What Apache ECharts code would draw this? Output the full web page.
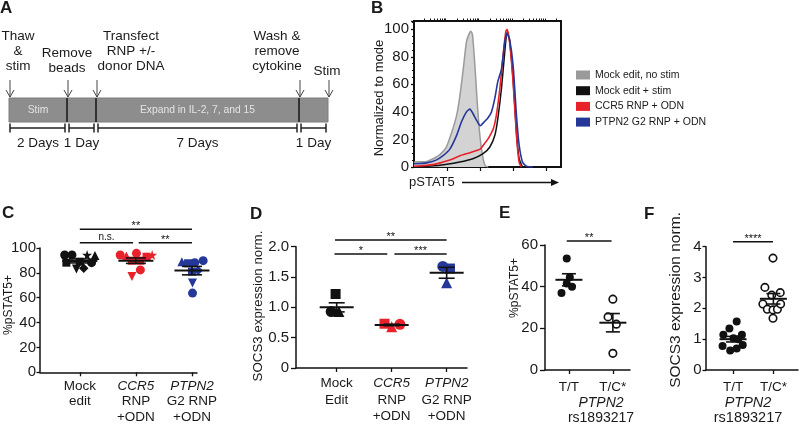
<!DOCTYPE html>
<html><head><meta charset="utf-8">
<script src="https://cdn.jsdelivr.net/npm/echarts@6/dist/echarts.min.js"></script>
<style>html,body{margin:0;padding:0;background:#fff}#c{width:800px;height:425px}</style>
</head><body><div id="c"></div>
<script>
const FONT = "'Liberation Sans', Arial, Helvetica, sans-serif";
const INK = '#1a1a1a';

// ---------------- Panel A (timeline, in days) ----------------
const segDays = [2, 1, 7, 1];
const segLabels = ['Stim', '', 'Expand in IL-2, 7, and 15', ''];
const durationLabels = ['2 Days', '1 Day', '7 Days', '1 Day'];
const eventDays = [0, 2, 3, 10, 11];
const eventLabels = ['Thaw\n&\nstim', 'Remove\nbeads', 'Transfect\nRNP +/-\ndonor DNA', 'Wash &\nremove\ncytokine', 'Stim'];

// ---------------- Panel B (pSTAT5 histograms, channel 0-100, % of mode) ----------------
const histNames = ['Mock edit, no stim', 'Mock edit + stim', 'CCR5 RNP + ODN', 'PTPN2 G2 RNP + ODN'];
const histMockNoStim = [[0,3],[0.7,3.6],[8.6,4],[13,6],[17.6,9],[22,14.5],[25.6,25],[29,37.5],[31,50],[33.5,71],[35.7,91],[37.6,97],[38.7,98.5],[39.8,96],[41.4,74],[43,47],[44.8,23],[46.6,8.5],[48.4,1],[50.5,0]];
const histMockStim = [[0,0],[17.6,1.2],[31,3.6],[40,6],[47,9.7],[51.6,14.5],[55,23],[57,35],[59.5,57],[61.8,84],[63.3,98],[65,92],[67.4,64],[69.7,25],[71.5,6],[73.8,0]];
const histCCR5 = [[0,0.5],[13,1.7],[24.4,5],[31,8],[38,10.4],[45,13],[48,17],[50.5,20.6],[54,28],[56,37.5],[58.4,57],[60.6,81],[62.4,98],[63.3,100],[65,91],[67.4,62],[69.7,23],[71.5,3.6],[73,0]];
const histPTPN2 = [[0,2.4],[8.6,3],[15,5],[20,8.5],[24.4,13],[29,23],[32.4,33],[35.7,40],[38,42],[40,39],[42.5,34],[45,30],[48,33],[50.5,36],[52.7,40],[55,50],[57,62],[59.5,71],[61.8,91],[63.3,97],[65,93],[67.4,74],[69.7,37.5],[71.5,16],[73.8,3.6],[76.5,0.5],[81,0]];
const histDecades = [0, 22.4, 45, 67.4, 90];

// ---------------- Panel C (%pSTAT5+) ----------------
const catC = [['Mock','edit'], ['CCR5','RNP','+ODN'], ['PTPN2','G2 RNP','+ODN']];
const mockC_x = [0.73, 0.86, 1.13, 1.27, 0.76, 1.0, 1.21, 0.94, 1.07];
const mockC_y = [94.4, 94.4, 94.4, 94, 88.2, 89, 88.2, 83.2, 83.8];
const ccr5C_x = [1.72, 1.83, 2.01, 1.93, 2.08, 2.19, 2.29, 2.08, 1.93];
const ccr5C_y = [94.4, 93.6, 95.7, 89.8, 89.8, 93, 94.4, 82.4, 77];
const ptpn2C_x = [2.82, 2.93, 3.05, 3.2, 3.0, 3.11, 3.01, 3.01];
const ptpn2C_y = [89, 87.7, 88.2, 89.8, 81, 81.8, 71.8, 63.7];
const meanC = [89.6, 89.8, 81.8];
const semC = [1.6, 2.2, 3.4];
const sigC = [[1, 3, 115, '**'], [1, 1.95, 104.2, 'n.s.'], [2.05, 3, 104.2, '**']];
// donor symbols (style)
const mockC_shape = ['circle','circle','star','triangle','rect','rect','circle','tridown','diamond'];
const ccr5C_shape = ['circle','triangle','circle','rect','rect','rect','star','circle','tridown'];
const ptpn2C_shape = ['triangle','rect','circle','circle','rect','diamond','tridown','circle'];

// ---------------- Panel D (SOCS3 expression) ----------------
const catD = [['Mock','Edit'], ['CCR5','RNP','+ODN'], ['PTPN2','G2 RNP','+ODN']];
const mockD_x = [0.98, 0.9, 1.04];
const mockD_y = [1.22, 0.93, 0.93];
const ccr5D_x = [1.87, 2.0, 2.15];
const ccr5D_y = [0.73, 0.68, 0.72];
const ptpn2D_x = [2.93, 3.06, 3.0];
const ptpn2D_y = [1.675, 1.64, 1.405];
const meanD = [1.0, 0.71, 1.57];
const semD = [0.075, 0.012, 0.09];
const sigD = [[0.97, 3, 2.11, '**'], [0.96, 1.92, 1.88, '*'], [2.05, 3, 1.88, '***']];
const dShape = ['rect', 'circle', 'triangle'];
const dShapeRed = ['rect', 'triangle', 'circle'];
const dShapeBlue = ['circle', 'rect', 'triangle'];

// ---------------- Panel E (%pSTAT5+ by genotype) ----------------
const catE = [['T/T'], ['T/C*']];
const ttE_x = [0.95, 1.02, 0.95, 1.07, 0.83];
const ttE_y = [53.5, 44.5, 41.5, 40, 37];
const tcE_x = [2.0, 1.89, 2.08, 2.0];
const tcE_y = [34, 25.5, 22, 8];
const meanE = [43.3, 22.7];
const semE = [2.9, 4.4];
const sigE = [[0.95, 1.97, 61.9, '**']];

// ---------------- Panel F (SOCS3 by genotype) ----------------
const catF = [['T/T'], ['T/C*']];
const ttF_x = [1.09, 0.91, 0.76, 1.22, 1.01, 1.13, 0.74, 1.24, 0.93, 1.09];
const ttF_y = [1.57, 1.35, 1.14, 1.14, 1.03, 1.0, 0.78, 0.81, 0.63, 0.70];
const tcF_x = [1.99, 1.79, 2.17, 1.96, 1.74, 1.85, 1.99, 2.1, 2.18, 1.99];
const tcF_y = [3.63, 2.68, 2.51, 2.43, 2.14, 1.97, 1.95, 1.97, 2.14, 1.68];
const meanF = [1.0, 2.31];
const semF = [0.09, 0.17];
const sigF = [[1.0, 1.99, 4.16, '****']];

// ================= helpers =================
const RED = '#e8212b', BLUE = '#25389a', BLACK = '#111111';
const GENES = ['CCR5', 'PTPN2'];
const STAR = 'path://M50,0 L61,35 L98,35 L68,57 L79,91 L50,70 L21,91 L32,57 L2,35 L39,35 Z';

function symOf(name) {
  if (name === 'tridown') return { symbol: 'triangle', symbolRotate: 180 };
  if (name === 'star') return { symbol: STAR, symbolRotate: 0 };
  return { symbol: name, symbolRotate: 0 };
}
function pts(xs, ys, shapes, sizeMap) {
  return xs.map((x, i) => {
    const s = shapes ? shapes[i] : 'circle';
    const o = symOf(s);
    return { value: [x, ys[i]], symbol: o.symbol, symbolRotate: o.symbolRotate, symbolSize: sizeMap[s] };
  });
}
function catFormatter(cats) {
  return function (v) {
    const L = cats[Math.round(v) - 1];
    if (!L) return '';
    return L.map(s => GENES.indexOf(s) >= 0 ? '{i|' + s + '}' : s).join('\n');
  };
}
function meanSemRender(halfMean, halfSem) {
  return function (params, api) {
    const x = api.value(0), m = api.value(1), s = api.value(2);
    const c = api.coord([x, m]), t = api.coord([x, m + s]), b = api.coord([x, m - s]);
    const thin = { stroke: '#111', lineWidth: 1.6 };
    return { type: 'group', children: [
      { type: 'line', shape: { x1: c[0] - halfMean, y1: c[1], x2: c[0] + halfMean, y2: c[1] }, style: { stroke: '#111', lineWidth: 2 } },
      { type: 'line', shape: { x1: c[0] - halfSem, y1: t[1], x2: c[0] + halfSem, y2: t[1] }, style: thin },
      { type: 'line', shape: { x1: c[0] - halfSem, y1: b[1], x2: c[0] + halfSem, y2: b[1] }, style: thin },
      { type: 'line', shape: { x1: c[0], y1: t[1], x2: c[0], y2: b[1] }, style: thin }
    ]};
  };
}
function sigRender(list) {
  return function (params, api) {
    const p1 = api.coord([api.value(0), api.value(2)]);
    const p2 = api.coord([api.value(1), api.value(2)]);
    const lab = list[params.dataIndex][3];
    const star = lab.indexOf('*') >= 0;
    return { type: 'group', children: [
      { type: 'line', shape: { x1: p1[0], y1: p1[1], x2: p2[0], y2: p2[1] }, style: { stroke: '#111', lineWidth: 1.5 } },
      { type: 'text', style: { text: lab, x: (p1[0] + p2[0]) / 2, y: p1[1] - (star ? 3 : 6),
        align: 'center', textAlign: 'center', verticalAlign: 'middle', textVerticalAlign: 'middle',
        fontSize: star ? 11 : 10, fontFamily: FONT, fill: '#111' } }
    ]};
  };
}

// ---- panel A renderers ----
const segStarts = [];
segDays.reduce((acc, d) => { segStarts.push(acc); return acc + d; }, 0);
const segData = segDays.map((d, i) => [segStarts[i], segStarts[i] + d]);
const eventLabelDx = [8, -1, 34, -23, -2];
const eventLabelBottom = [73.5, 75.5, 73.5, 73.5, 78.5];

function renderSeg(params, api) {
  const i = params.dataIndex;
  const tl = api.coord([api.value(0), 1]), br = api.coord([api.value(1), 0]);
  const x0 = tl[0], x1 = br[0], y0 = tl[1], y1 = br[1];
  const kids = [{ type: 'rect', shape: { x: x0, y: y0, width: x1 - x0, height: y1 - y0 }, style: { fill: '#8d8d8d', stroke: '#7c7c7c', lineWidth: 1 } }];
  if (segLabels[i]) kids.push({ type: 'text', style: { text: segLabels[i], x: (x0 + x1) / 2, y: (y0 + y1) / 2 + 0.5,
    align: 'center', textAlign: 'center', verticalAlign: 'middle', textVerticalAlign: 'middle', fontSize: 10.3, fontFamily: FONT, fill: '#e4e4e4' } });
  if (i > 0) kids.push({ type: 'line', shape: { x1: x0, y1: y0, x2: x0, y2: y1 }, style: { stroke: '#2a2a2a', lineWidth: 1.8 } });
  const by = y1 + 6, bx0 = x0 + (i === 0 ? 1 : 2), bx1 = x1 - 2;
  const st = { stroke: '#222', lineWidth: 1.5 };
  kids.push({ type: 'line', shape: { x1: bx0, y1: by, x2: bx1, y2: by }, style: st });
  kids.push({ type: 'line', shape: { x1: bx0, y1: by - 4.5, x2: bx0, y2: by + 4.5 }, style: st });
  kids.push({ type: 'line', shape: { x1: bx1, y1: by - 4.5, x2: bx1, y2: by + 4.5 }, style: st });
  kids.push({ type: 'text', style: { text: durationLabels[i], x: (x0 + x1) / 2, y: by + 15.6,
    align: 'center', textAlign: 'center', verticalAlign: 'middle', textVerticalAlign: 'middle', fontSize: 13.5, fontFamily: FONT, fill: INK } });
  return { type: 'group', children: kids };
}
function renderEvent(params, api) {
  const i = params.dataIndex;
  const p = api.coord([api.value(0), 1]);
  const x = p[0] + 1, tip = p[1] - 1, top = tip - 17;
  const st = { stroke: '#444', lineWidth: 1, fill: 'none' };
  return { type: 'group', children: [
    { type: 'line', shape: { x1: x, y1: top, x2: x, y2: tip }, style: st },
    { type: 'polyline', shape: { points: [[x - 4, tip - 7], [x, tip], [x + 4, tip - 7]] }, style: st },
    { type: 'text', style: { text: eventLabels[i], x: x + eventLabelDx[i], y: eventLabelBottom[i], lineHeight: 14.7,
      align: 'center', textAlign: 'center', verticalAlign: 'bottom', textVerticalAlign: 'bottom', fontSize: 13.5, fontFamily: FONT, fill: INK } }
  ]};
}

// ---- axes builders ----
function yAx(grid, min, max, interval, opt) {
  opt = opt || {};
  return Object.assign({ gridIndex: grid, type: 'value', min: min, max: max, interval: interval,
    axisLine: { show: true, lineStyle: { color: '#111', width: 1.5 } },
    axisTick: { show: true, length: opt.tick || 4, lineStyle: { color: '#111', width: 1.3 } },
    splitLine: { show: false },
    axisLabel: { fontSize: opt.fs || 15, fontFamily: FONT, color: INK, margin: opt.margin || 4, formatter: opt.fmt } }, opt.extra || {});
}
function xCat(grid, min, max, cats, margin, lh) {
  const vals = cats.map((c, i) => i + 1);
  return { gridIndex: grid, type: 'value', min: min, max: max,
    axisLine: { show: true, lineStyle: { color: '#111', width: 1.5 } },
    axisTick: { show: true, length: 4, customValues: vals, lineStyle: { color: '#111', width: 1.3 } },
    splitLine: { show: false },
    axisLabel: { customValues: vals, formatter: catFormatter(cats), fontSize: 13.5, fontFamily: FONT, color: INK,
      margin: margin, lineHeight: lh,
      rich: { i: { fontStyle: 'italic', fontSize: 13.5, fontFamily: FONT, color: INK, lineHeight: lh } } } };
}

// minor ticks for panel B (log decades)
const minorB = [];
histDecades.forEach(d => { for (let m = 2; m <= 9; m++) { const v = d + 22.6 * Math.log10(m); if (v < 100) minorB.push(v); } });

const sizeC = { circle: 9, rect: 8, triangle: 9, tridown: 9, diamond: 9.5, star: 10 };
const sizeD = { circle: 11, rect: 10, triangle: 11 };

const option = {
  animation: false,
  backgroundColor: '#fff',
  textStyle: { fontFamily: FONT },
  grid: [
    { left: 9, top: 98, width: 319, height: 24 },
    { left: 414, top: 21, width: 147, height: 146, show: true, borderColor: '#111', borderWidth: 2, backgroundColor: 'transparent' },
    { left: 40, top: 248, width: 157, height: 125 },
    { left: 296, top: 246.7, width: 171, height: 123.3 },
    { left: 545, top: 245, width: 85, height: 125 },
    { left: 706, top: 246.7, width: 92, height: 123.3 }
  ],
  xAxis: [
    { gridIndex: 0, type: 'value', min: 0, max: 11, show: false },
    { gridIndex: 1, type: 'value', min: 0, max: 100,
      axisLine: { show: true, lineStyle: { color: '#111', width: 2 } },
      axisTick: { show: true, length: 4, customValues: histDecades.slice(1), lineStyle: { color: '#111', width: 1.2 } },
      axisLabel: { show: false }, splitLine: { show: false } },
    { gridIndex: 1, type: 'value', min: 0, max: 100,
      axisLine: { show: false },
      axisTick: { show: true, length: 2.5, customValues: minorB, lineStyle: { color: '#111', width: 1 } },
      axisLabel: { show: false }, splitLine: { show: false } },
    xCat(2, 0.29, 3.09, catC, 6.2, 15.5),
    xCat(3, 0.26, 3.37, catD, 7.2, 16.6),
    xCat(4, 0.455, 2.39, catE, 9.5, 16),
    xCat(5, 0.33, 2.61, catF, 9.5, 16)
  ],
  yAxis: [
    { gridIndex: 0, type: 'value', min: 0, max: 1, show: false },
    yAx(1, 0, 106, 20, { margin: 5, tick: 3, extra: { minorTick: { show: true, splitNumber: 4, length: 2, lineStyle: { color: '#111' } } },
      fmt: v => (v > 100 ? '' : String(v)) }),
    yAx(2, 0, 100, 20, { margin: 4, tick: 3.5 }),
    yAx(3, 0, 2, 0.5, { margin: 7, tick: 5, fmt: v => (v === 0 ? '0' : v.toFixed(1)) }),
    yAx(4, 0, 60, 20, { margin: 7, tick: 5 }),
    yAx(5, 0, 4, 1, { margin: 4.5, tick: 3.5 })
  ],
  legend: {
    data: histNames, orient: 'vertical', left: 576, top: 69.5, itemWidth: 14, itemHeight: 9, itemGap: 4.7,
    icon: 'rect', padding: 0, textStyle: { fontSize: 10.5, fontFamily: FONT, color: INK }
  },
  series: [
    // Panel A
    { type: 'custom', xAxisIndex: 0, yAxisIndex: 0, renderItem: renderSeg, data: segData, clip: false, silent: true },
    { type: 'custom', xAxisIndex: 0, yAxisIndex: 0, renderItem: renderEvent, data: eventDays.map(d => [d]), clip: false, silent: true },
    // Panel B
    { name: histNames[0], type: 'line', xAxisIndex: 1, yAxisIndex: 1, data: histMockNoStim, showSymbol: false, smooth: 0.2,
      itemStyle: { color: '#9a9a9a' }, lineStyle: { color: '#9a9a9a', width: 1.5 }, areaStyle: { color: '#d3d3d3', opacity: 1 } },
    { name: histNames[1], type: 'line', xAxisIndex: 1, yAxisIndex: 1, data: histMockStim, showSymbol: false, smooth: 0.2,
      itemStyle: { color: '#111' }, lineStyle: { color: '#111', width: 1.5 } },
    { name: histNames[2], type: 'line', xAxisIndex: 1, yAxisIndex: 1, data: histCCR5, showSymbol: false, smooth: 0.2,
      itemStyle: { color: RED }, lineStyle: { color: RED, width: 1.6 } },
    { name: histNames[3], type: 'line', xAxisIndex: 1, yAxisIndex: 1, data: histPTPN2, showSymbol: false, smooth: 0.2,
      itemStyle: { color: BLUE }, lineStyle: { color: BLUE, width: 1.6 } },
    // Panel C
    { type: 'scatter', xAxisIndex: 3, yAxisIndex: 2, data: pts(mockC_x, mockC_y, mockC_shape, sizeC), itemStyle: { color: BLACK, opacity: 1 }, clip: false },
    { type: 'scatter', xAxisIndex: 3, yAxisIndex: 2, data: pts(ccr5C_x, ccr5C_y, ccr5C_shape, sizeC), itemStyle: { color: RED, opacity: 1 }, clip: false },
    { type: 'scatter', xAxisIndex: 3, yAxisIndex: 2, data: pts(ptpn2C_x, ptpn2C_y, ptpn2C_shape, sizeC), itemStyle: { color: BLUE, opacity: 1 }, clip: false },
    { type: 'custom', xAxisIndex: 3, yAxisIndex: 2, renderItem: meanSemRender(17.5, 10), data: meanC.map((m, i) => [i + 1, m, semC[i]]), clip: false, z: 5 },
    { type: 'custom', xAxisIndex: 3, yAxisIndex: 2, renderItem: sigRender(sigC), data: sigC.map(s => [s[0], s[1], s[2]]), clip: false },
    // Panel D
    { type: 'scatter', xAxisIndex: 4, yAxisIndex: 3, data: pts(mockD_x, mockD_y, dShape, sizeD), itemStyle: { color: BLACK, opacity: 1 }, clip: false },
    { type: 'scatter', xAxisIndex: 4, yAxisIndex: 3, data: pts(ccr5D_x, ccr5D_y, dShapeRed, sizeD), itemStyle: { color: RED, opacity: 1 }, clip: false },
    { type: 'scatter', xAxisIndex: 4, yAxisIndex: 3, data: pts(ptpn2D_x, ptpn2D_y, dShapeBlue, sizeD), itemStyle: { color: BLUE, opacity: 1 }, clip: false },
    { type: 'custom', xAxisIndex: 4, yAxisIndex: 3, renderItem: meanSemRender(17, 8), data: meanD.map((m, i) => [i + 1, m, semD[i]]), clip: false, z: 5 },
    { type: 'custom', xAxisIndex: 4, yAxisIndex: 3, renderItem: sigRender(sigD), data: sigD.map(s => [s[0], s[1], s[2]]), clip: false },
    // Panel E
    { type: 'scatter', xAxisIndex: 5, yAxisIndex: 4, data: pts(ttE_x, ttE_y, null, { circle: 8 }), itemStyle: { color: BLACK, opacity: 1 }, clip: false },
    { type: 'scatter', xAxisIndex: 5, yAxisIndex: 4, data: pts(tcE_x, tcE_y, null, { circle: 7.5 }), itemStyle: { color: '#fff', borderColor: '#111', borderWidth: 1.6, opacity: 1 }, clip: false },
    { type: 'custom', xAxisIndex: 5, yAxisIndex: 4, renderItem: meanSemRender(13.5, 7), data: meanE.map((m, i) => [i + 1, m, semE[i]]), clip: false, z: 5 },
    { type: 'custom', xAxisIndex: 5, yAxisIndex: 4, renderItem: sigRender(sigE), data: sigE.map(s => [s[0], s[1], s[2]]), clip: false },
    // Panel F
    { type: 'scatter', xAxisIndex: 6, yAxisIndex: 5, data: pts(ttF_x, ttF_y, null, { circle: 8 }), itemStyle: { color: BLACK, opacity: 1 }, clip: false },
    { type: 'scatter', xAxisIndex: 6, yAxisIndex: 5, data: pts(tcF_x, tcF_y, null, { circle: 7.5 }), itemStyle: { color: '#fff', borderColor: '#111', borderWidth: 1.6, opacity: 1 }, clip: false },
    { type: 'custom', xAxisIndex: 6, yAxisIndex: 5, renderItem: meanSemRender(13.5, 7), data: meanF.map((m, i) => [i + 1, m, semF[i]]), clip: false, z: 5 },
    { type: 'custom', xAxisIndex: 6, yAxisIndex: 5, renderItem: sigRender(sigF), data: sigF.map(s => [s[0], s[1], s[2]]), clip: false }
  ],
  graphic: []
};

function gText(text, x, y, o) {
  o = o || {};
  return { type: 'text', x: x, y: y, rotation: o.rot || 0, silent: true,
    style: { text: text, x: 0, y: 0, align: o.align || 'center', textAlign: o.align || 'center',
      verticalAlign: o.va || 'middle', textVerticalAlign: o.va || 'middle',
      fontSize: o.fs || 13.5, fontWeight: o.fw || 'normal', fontStyle: o.fst || 'normal', fontFamily: FONT, fill: INK } };
}
const R = Math.PI / 2;
option.graphic = [
  gText('A', 0, 0, { align: 'left', va: 'top', fs: 17, fw: 'bold' }),
  gText('B', 371, 0, { align: 'left', va: 'top', fs: 17, fw: 'bold' }),
  gText('C', 2, 205, { align: 'left', va: 'top', fs: 17, fw: 'bold' }),
  gText('D', 250, 206, { align: 'left', va: 'top', fs: 17, fw: 'bold' }),
  gText('E', 499, 205, { align: 'left', va: 'top', fs: 17, fw: 'bold' }),
  gText('F', 644, 206, { align: 'left', va: 'top', fs: 17, fw: 'bold' }),
  gText('Normalized to mode', 379, 98, { rot: R, fs: 13 }),
  gText('%pSTAT5+', 8.5, 305, { rot: R, fs: 12 }),
  gText('SOCS3 expression norm.', 258, 306, { rot: R, fs: 13.3 }),
  gText('%pSTAT5+', 515, 288, { rot: R, fs: 12 }),
  gText('SOCS3 expression norm.', 676, 300, { rot: R, fs: 15.5 }),
  gText('pSTAT5', 409, 182, { align: 'left', fs: 13 }),
  { type: 'line', silent: true, shape: { x1: 462, y1: 182.5, x2: 553, y2: 182.5 }, style: { stroke: '#111', lineWidth: 1.3 } },
  { type: 'polygon', silent: true, shape: { points: [[551, 179], [559, 182.5], [551, 186]] }, style: { fill: '#111' } },
  gText('PTPN2', 601, 403, { fst: 'italic', fs: 14 }),
  gText('rs1893217', 601, 418.3, { fs: 14 }),
  gText('PTPN2', 748, 403, { fst: 'italic', fs: 14.5 }),
  gText('rs1893217', 748, 418.3, { fs: 14.5 })
];

const chart = echarts.init(document.getElementById('c'), null, { renderer: 'canvas', width: 800, height: 425 });
chart.setOption(option);
</script>
</body></html>
